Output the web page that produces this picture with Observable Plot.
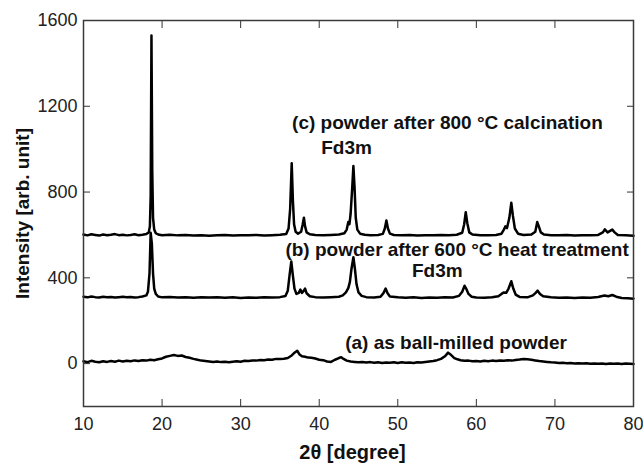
<!DOCTYPE html>
<html><head><meta charset="utf-8">
<script src="https://cdn.jsdelivr.net/npm/d3@7"></script>
<script src="https://cdn.jsdelivr.net/npm/@observablehq/plot@0.6"></script>
<style>body{margin:0;background:#fff}</style>
</head><body><div id="chart"></div>
<script>
// (a) as ball-milled powder
const twoThetaA = [10,10.5,11,11.5,12,12.5,13,13.5,14,14.5,15,15.5,16,16.5,17,17.5,18,18.5,19,19.5,20,20.5,21,21.5,22,22.5,23,23.5,24,24.5,25,25.5,26,26.5,27,27.5,28,28.5,29,29.5,30,30.5,31,31.5,32,32.5,33,33.5,34,34.5,35,35.5,36,36.5,36.9,37.2,37.5,37.8,38.2,38.6,39,39.5,40,40.5,41,41.5,42,42.5,42.8,43.1,43.5,44,44.5,45,45.5,46,46.5,47,47.5,48,48.5,49,49.5,50,50.5,51,51.5,52,52.5,53,53.5,54,54.5,55,55.5,56,56.4,56.8,57.2,57.6,58,58.5,59,59.5,60,60.5,61,61.5,62,62.5,63,63.5,64,64.5,65,65.5,66,66.5,67,67.5,68,68.5,69,69.5,70,70.5,71,71.5,72,72.5,73,73.5,74,74.5,75,75.5,76,76.5,77,77.5,78,78.5,79,79.5,80];
const intensityA = [11,7,13,9,6,11,8,12,9,14,10,13,11,15,12,16,14,18,16,20,24,32,36,40,36,38,31,27,22,18,14,12,10,8,10,7,9,6,9,11,9,13,12,15,14,17,16,19,18,22,21,23,26,38,52,60,42,34,32,28,27,24,18,16,10,8,18,26,30,22,14,10,8,6,8,5,7,4,6,3,5,4,6,3,6,4,5,3,6,5,8,10,12,16,22,34,51,40,26,20,16,13,14,11,12,10,13,11,14,12,15,13,16,14,17,19,22,20,18,15,12,10,8,6,5,3,4,2,3,1,2,0,2,-1,1,-1,0,-2,1,-1,0,-2,0,-1,-2];

// (b) powder after 600 °C heat treatment
const twoThetaB = [10,10.5,11,11.5,12,12.5,13,13.5,14,14.5,15,15.5,16,16.5,17,17.5,18,18.2,18.4,18.55,18.7,18.85,19,19.2,19.5,20,21,22,23,24,25,26,27,28,29,30,31,32,33,34,35,35.7,36,36.25,36.45,36.65,36.85,37.1,37.4,37.6,37.8,38,38.2,38.4,38.8,39.5,40.5,41.5,42.5,43,43.4,43.7,43.9,44.1,44.35,44.55,44.75,45,45.4,46,47,47.8,48.2,48.45,48.7,49,50,51,52,53,54,55,56,57,57.8,58.2,58.5,58.7,59,59.4,60,61,62,62.8,63.2,63.5,63.8,64.1,64.45,64.7,65,65.5,66.5,67.2,67.55,67.8,68.1,68.5,69.5,70.5,71.5,72.5,73.5,74.5,75.5,76.3,76.8,77.3,77.8,78.5,79.3,80];
const intensityB = [312,309,313,310,308,312,309,311,308,310,312,309,311,308,310,313,318,335,420,610,560,420,350,325,313,309,311,308,310,307,309,308,310,307,309,306,308,307,309,308,310,315,340,420,476,410,350,325,330,345,330,338,350,328,314,310,308,310,312,318,332,352,380,440,496,440,370,332,316,310,308,312,330,350,328,313,309,307,309,306,308,307,309,308,316,335,363,350,325,312,308,307,309,314,325,332,330,350,384,350,322,311,309,318,330,340,325,314,309,307,308,306,308,307,311,318,314,320,312,306,305,303];

// (c) powder after 800 °C calcination
const twoThetaC = [10,10.5,11,11.5,12,12.5,13,13.5,14,14.5,15,15.5,16,16.5,17,17.5,18,18.3,18.45,18.55,18.65,18.75,18.85,19,19.2,19.5,20,21,22,23,24,25,26,27,28,29,30,31,32,33,34,35,35.8,36.1,36.3,36.5,36.65,36.8,37,37.3,37.7,37.9,38.05,38.2,38.4,38.8,39.5,40.5,41.5,42.5,43.2,43.5,43.7,43.85,44,44.2,44.35,44.5,44.65,44.85,45.2,45.8,46.5,47.5,48.1,48.35,48.55,48.75,49,49.5,50.5,51.5,52.5,53.5,54.5,55.5,56.5,57.5,58.2,58.45,58.65,58.85,59.1,59.5,60.5,61.5,62.5,63.2,63.5,63.7,63.9,64.2,64.45,64.65,64.9,65.3,66,67,67.5,67.75,67.95,68.2,68.6,69.5,70.5,71.5,72.5,73.5,74.5,75.5,76.1,76.35,76.7,77.3,77.6,78,79,80];
const intensityC = [602,598,603,600,597,602,599,601,604,599,601,598,600,603,599,601,604,612,640,780,1530,900,680,625,608,602,599,601,598,600,597,599,596,598,600,597,599,598,600,597,599,601,604,630,720,934,760,650,615,606,615,650,680,640,612,603,600,598,600,602,608,625,660,650,700,820,921,820,680,625,606,601,599,600,605,630,667,630,606,600,598,600,597,599,598,600,599,601,610,650,706,655,612,602,599,598,600,606,625,640,632,680,750,690,630,606,600,602,615,660,640,612,602,599,598,600,597,599,598,600,612,626,612,625,612,600,598,596];

const xTicks = [10,20,30,40,50,60,70,80];
const yTicks = [0,400,800,1200,1600];
const annText = ["(c) powder after 800 °C calcination","Fd3m","(b) powder after 600 °C heat treatment","Fd3m","(a) as ball-milled powder"];
const annX = [36.55,40.25,35.7,51.8,43.3];
const annY = [1124,1004,532,434,97];
const xTitle = "2θ [degree]";
const yTitle = "Intensity [arb. unit]";

const rows = (xs, ys, s) => xs.map((x, i) => ({x, y: ys[i], s}));
const traces = [...rows(twoThetaA, intensityA, "a"), ...rows(twoThetaB, intensityB, "b"), ...rows(twoThetaC, intensityC, "c")];
const anns = annText.map((t, i) => ({t, x: annX[i], y: annY[i]}));

const font = "'Liberation Sans', Arial, Helvetica, sans-serif";
const chart = Plot.plot({
  width: 643, height: 465,
  marginLeft: 83, marginRight: 10, marginTop: 20, marginBottom: 59,
  style: {fontFamily: font, background: "#fff", color: "#222"},
  x: {domain: [10, 80]},
  y: {domain: [-200, 1600]},
  marks: [
    Plot.axisX({anchor: "bottom", ticks: xTicks, tickFormat: d3.format("d"), tickSize: -7, tickPadding: 18, fontSize: 18, label: null, stroke: "#333"}),
    Plot.axisX({anchor: "top", ticks: xTicks, tickSize: -7, tickFormat: () => "", label: null, stroke: "#333"}),
    Plot.axisY({anchor: "left", ticks: yTicks, tickFormat: d3.format("d"), tickSize: -7, tickPadding: 13, fontSize: 18, label: null, stroke: "#333"}),
    Plot.axisY({anchor: "right", ticks: yTicks, tickSize: -7, tickFormat: () => "", label: null, stroke: "#333"}),
    Plot.line(traces, {x: "x", y: "y", z: "s", stroke: "black", strokeWidth: 2.5}),
    Plot.frame({stroke: "#3a3a3a", strokeWidth: 1.5}),
    Plot.text(anns, {x: "x", y: "y", text: "t", textAnchor: "start", lineAnchor: "middle", fontWeight: "bold", fontSize: 19, fill: "#111", ariaLabel: "annotation"}),
    Plot.text([xTitle], {text: d => d, frameAnchor: "bottom", textAnchor: "middle", lineAnchor: "middle", dy: 46, dx: -6, fontWeight: "bold", fontSize: 20, fill: "#111", ariaLabel: "xtitle"}),
    Plot.text([yTitle], {text: d => d, frameAnchor: "left", textAnchor: "middle", lineAnchor: "middle", dx: -61, rotate: -90, fontWeight: "bold", fontSize: 19, fill: "#111", ariaLabel: "ytitle"})
  ]
});
d3.select(chart).selectAll('g[aria-label="annotation"] text').style("letter-spacing", "0.5px");
d3.select(chart).selectAll('g[aria-label="xtitle"] text').style("letter-spacing", "1.6px");
d3.select(chart).selectAll('g[aria-label="ytitle"] text').style("letter-spacing", "0.5px");
document.getElementById("chart").append(chart);
</script>
</body></html>
